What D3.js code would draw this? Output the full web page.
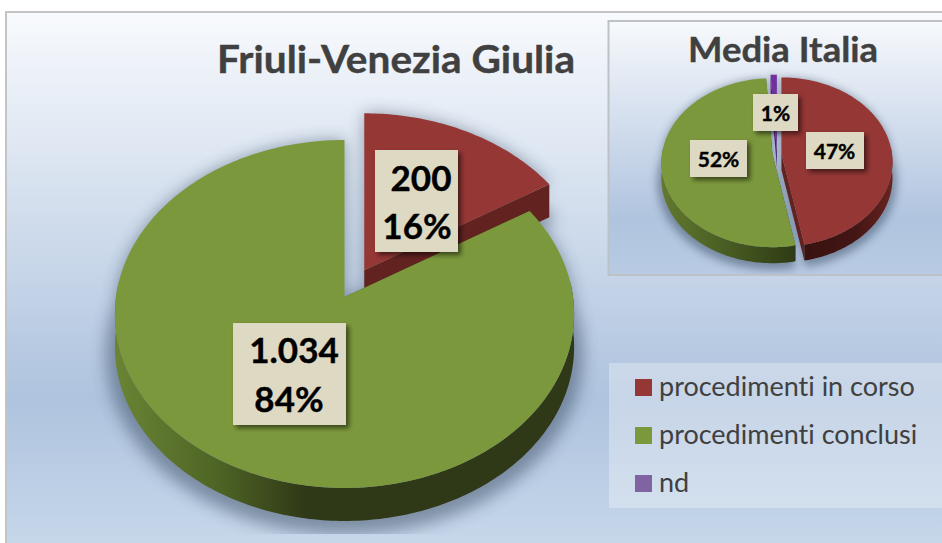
<!DOCTYPE html>
<html lang="it">
<head>
<meta charset="UTF-8">
<title>Friuli-Venezia Giulia</title>
<script src="https://d3js.org/d3.v7.min.js"></script>
<style>
    * { margin: 0; padding: 0; }
    body { background: #fff; overflow: hidden; }
    svg { display: block; font-family: Lato, "Open Sans", sans-serif; font-variant-ligatures: none; }
</style>
</head>
<body>
<div id="chart"></div>
<script>
const categories = ['procedimenti in corso', 'procedimenti conclusi', 'nd'];
const friuliValues = [200, 1034, 0];
const italiaValues = [47, 52, 1];

const w = 942;
const h = 543;
const rad = Math.PI / 180;

const color = d3.scaleOrdinal().domain(categories).range(['#953735', '#7c983c', '#7030a0']);
const cutColor = d3.scaleOrdinal().domain(categories).range(['#622220', '#3f4f1f', '#4a2070']);
const legendColor = d3.scaleOrdinal().domain(categories).range(['#953735', '#7c983c', '#8064a2']);
const itNumber = d3.formatLocale({ decimal: ',', thousands: '.', grouping: [3], currency: ['', ''] }).format(',d');

const svg = d3.select('#chart').append('svg').attr('width', w).attr('height', h);
const defs = svg.append('defs');

function vGrad(id, y0, y1, stops) {
    const g = defs.append('linearGradient').attr('id', id)
        .attr('gradientUnits', 'userSpaceOnUse')
        .attr('x1', 0).attr('x2', 0).attr('y1', y0).attr('y2', y1);
    stops.forEach(s => g.append('stop').attr('offset', s[0]).attr('stop-color', s[1]));
}

function hGrad(id, x0, x1, stops) {
    const g = defs.append('linearGradient').attr('id', id)
        .attr('gradientUnits', 'userSpaceOnUse')
        .attr('y1', 0).attr('y2', 0).attr('x1', x0).attr('x2', x1);
    stops.forEach(s => g.append('stop').attr('offset', s[0]).attr('stop-color', s[1]));
}

vGrad('bgMain', 12, 543, [[0, '#f8fafd'], [0.73, '#aec3de'], [1, '#c6d7ea']]);
vGrad('bgInset', 21, 275, [[0, '#f7f9fc'], [0.78, '#b0c4df'], [1, '#b8cbe3']]);

hGrad('rimGreen', 114, 574, [[0, '#6a8535'], [0.22, '#4f6525'], [0.42, '#2f3817'], [1, '#2f3817']]);
hGrad('rimGreenSmall', 661, 795, [[0, '#62792e'], [0.45, '#4a5f24'], [1, '#2f3b14']]);
hGrad('rimRedSmall', 800, 893, [[0, '#381210'], [0.6, '#431614'], [1, '#6a2321']]);

const blur = defs.append('filter').attr('id', 'pieShadow')
    .attr('x', '-20%').attr('y', '-20%').attr('width', '140%').attr('height', '140%');
blur.append('feGaussianBlur').attr('stdDeviation', 8);

const blurSmall = defs.append('filter').attr('id', 'pieShadowSmall')
    .attr('x', '-20%').attr('y', '-20%').attr('width', '140%').attr('height', '140%');
blurSmall.append('feGaussianBlur').attr('stdDeviation', 4.5);

const boxShadow = defs.append('filter').attr('id', 'boxShadow')
    .attr('x', '-20%').attr('y', '-20%').attr('width', '150%').attr('height', '150%');
boxShadow.append('feDropShadow').attr('dx', 3).attr('dy', 3).attr('stdDeviation', 2.5)
    .attr('flood-color', '#000').attr('flood-opacity', 0.55);

// the shadows stop dead at a line below each pie
defs.append('clipPath').attr('id', 'clipMain').append('rect')
    .attr('x', 7).attr('y', 13).attr('width', w).attr('height', 521);
defs.append('clipPath').attr('id', 'clipInset').append('rect')
    .attr('x', 610).attr('y', 22).attr('width', w).attr('height', 252);

// panels
svg.append('rect').attr('x', 6).attr('y', 12).attr('width', w).attr('height', h)
    .attr('fill', 'url(#bgMain)').attr('stroke', '#c4c4c4').attr('stroke-width', 2);
svg.append('rect').attr('x', 608.5).attr('y', 21).attr('width', w).attr('height', 254)
    .attr('fill', 'url(#bgInset)').attr('stroke', '#bcc2c6').attr('stroke-width', 2);

// titles
svg.append('text').attr('x', 217).attr('y', 73).attr('font-size', 38).attr('font-weight', 700)
    .attr('fill', '#404040').attr('stroke', '#404040').attr('stroke-width', 0.4)
    .attr('textLength', 358).attr('lengthAdjust', 'spacingAndGlyphs')
    .text('Friuli-Venezia Giulia');
svg.append('text').attr('x', 688).attr('y', 62).attr('font-size', 35).attr('font-weight', 700)
    .attr('fill', '#404040').attr('stroke', '#404040').attr('stroke-width', 0.4)
    .attr('textLength', 190).attr('lengthAdjust', 'spacingAndGlyphs')
    .text('Media Italia');

// the pie lies on a tilted plane: the back half comes out shorter than the front
function projector(o) {
    return function(theta, dx, dy, r) {
        const u = -Math.cos(theta);
        const s = 1 / (1 - o.persp * u);
        return [o.cx + dx + o.rx * r * Math.sin(theta) * s, o.cy + dy + o.ry * r * u * s];
    };
}

const line = d3.line();

function drawPie(o) {
    const project = projector(o);
    const slices = d3.pie().sort(null)(o.values).map((d, i) => {
        d.name = categories[i];
        return d;
    }).filter(d => d.value > 0);

    function offset(d) {
        const mid = (d.startAngle + d.endAngle) / 2;
        const e = o.explode[d.index];
        const a = project(mid, 0, 0, e / o.rx);
        const c = project(mid, 0, 0, 0);
        return [a[0] - c[0], a[1] - c[1]];
    }

    function rim(d, a0, a1, off, r) {
        const n = Math.max(2, Math.ceil((a1 - a0) / rad));
        return d3.range(n + 1).map(i => project(a0 + (a1 - a0) * i / n, off[0], off[1], r));
    }

    function topFace(d, off, r) {
        return [project(0, off[0], off[1], 0)].concat(rim(d, d.startAngle, d.endAngle, off, r));
    }

    function shifted(pts, dy) {
        return pts.map(p => [p[0], p[1] + dy]);
    }

    const shadow = svg.append('g').attr('clip-path', 'url(#' + o.clip + ')')
        .append('g').attr('filter', 'url(#' + o.shadowFilter + ')').attr('opacity', o.shadowOpacity);
    const pieces = svg.append('g');

    slices.forEach(d => {
        const off = offset(d);
        // shadow: the slice a little enlarged and pushed down
        shadow.append('path')
            .attr('d', line(shifted(topFace(d, off, o.shadowScale), o.depth + o.shadowDrop)) + 'Z')
            .attr('fill', '#26384f');
        shadow.append('path')
            .attr('d', line(topFace(d, off, 1)) + 'Z')
            .attr('fill', '#26384f');
    });

    slices.forEach(d => {
        const off = offset(d);
        const g = pieces.append('g');
        const apex = project(0, off[0], off[1], 0);

        // the two flat cut faces
        [d.startAngle, d.endAngle].forEach(a => {
            const edge = project(a, off[0], off[1], 1);
            g.append('path')
                .attr('d', line([apex, edge, [edge[0], edge[1] + o.depth], [apex[0], apex[1] + o.depth]]) + 'Z')
                .attr('fill', cutColor(d.name));
        });

        // the outer wall, only the part turned to the viewer
        const a0 = Math.max(d.startAngle, 85 * rad);
        const a1 = Math.min(d.endAngle, 275 * rad);
        if (a1 > a0) {
            const arc = rim(d, a0, a1, off, 1);
            g.append('path')
                .attr('d', line(arc.concat(shifted(arc, o.depth).reverse())) + 'Z')
                .attr('fill', o.rimFill[d.index]);
        }

        g.append('path').attr('d', line(topFace(d, off, 1)) + 'Z').attr('fill', color(d.name));
    });
}

drawPie({
    values: friuliValues,
    cx: 344.5, cy: 297, rx: 228.5, ry: 172.3, persp: 0.0976, depth: 33,
    explode: [44, 0, 0],
    rimFill: ['#622220', 'url(#rimGreen)', '#5f2a9a'],
    shadowFilter: 'pieShadow', shadowOpacity: 0.44, shadowDrop: 6, shadowScale: 1.04, clip: 'clipMain'
});

drawPie({
    values: italiaValues,
    cx: 777, cy: 154, rx: 110.5, ry: 83.7, persp: 0.0976, depth: 16,
    explode: [4.5, 4.5, 4.5],
    rimFill: ['url(#rimRedSmall)', 'url(#rimGreenSmall)', '#5f2a9a'],
    shadowFilter: 'pieShadowSmall', shadowOpacity: 0.44, shadowDrop: 3, shadowScale: 1.04, clip: 'clipInset'
});

function label(x0, x1, y0, y1, lines) {
    svg.append('rect').attr('x', x0).attr('y', y0).attr('width', x1 - x0).attr('height', y1 - y0)
        .attr('fill', '#ddd9c3').attr('filter', 'url(#boxShadow)');
    lines.forEach(l => {
        svg.append('text').attr('x', l.x).attr('y', l.y).attr('font-size', l.size)
            .attr('font-weight', 700).attr('fill', '#000').attr('text-anchor', 'middle')
            .attr('stroke', '#000').attr('stroke-width', 0.4)
            .text(l.text);
    });
}

function pct(values, i) {
    return Math.round(100 * values[i] / d3.sum(values)) + '%';
}

label(375, 458, 150, 252, [
    { x: 421, y: 191, size: 35, text: itNumber(friuliValues[0]) },
    { x: 417, y: 239, size: 35, text: pct(friuliValues, 0) }
]);
label(233, 346, 323, 425, [
    { x: 294, y: 363, size: 35, text: itNumber(friuliValues[1]) },
    { x: 289, y: 412, size: 35, text: pct(friuliValues, 1) }
]);
label(753, 798, 94, 131, [{ x: 775.5, y: 121, size: 21, text: pct(italiaValues, 2) }]);
label(806, 864, 132, 169, [{ x: 834.5, y: 159, size: 21, text: pct(italiaValues, 0) }]);
label(690, 747, 140, 177, [{ x: 718.5, y: 167, size: 21, text: pct(italiaValues, 1) }]);

// legend
svg.append('rect').attr('x', 609).attr('y', 363).attr('width', 333).attr('height', 145)
    .attr('fill', '#fff').attr('fill-opacity', 0.3);

const legendY = d3.scalePoint().domain(categories).range([387.5, 483.5]);
const legend = svg.selectAll('.legend').data(categories).enter().append('g').attr('class', 'legend');
legend.append('rect')
    .attr('x', 635).attr('y', d => legendY(d) - 8.5)
    .attr('width', 17).attr('height', 17)
    .attr('fill', d => legendColor(d));
legend.append('text')
    .attr('x', 659).attr('y', d => legendY(d) + 8)
    .attr('font-size', 27).attr('fill', '#404040')
    .text(d => d);
</script>
</body>
</html>
